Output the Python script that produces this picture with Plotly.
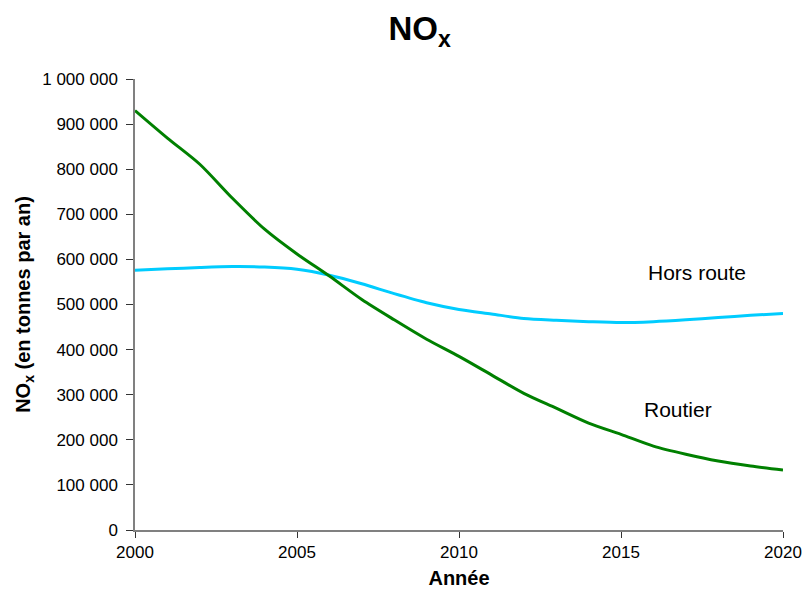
import plotly.graph_objects as go

years = list(range(2000, 2021))
routier = [930000, 869000, 811000, 736000, 667000, 612000, 563000, 511000, 466000, 423000,
           385000, 344000, 303000, 270000, 237000, 212000, 186000, 168000, 153000, 142000, 133000]
hors_route = [576000, 579000, 582000, 584000, 583000, 578000, 565000, 546000, 524000, 504000,
              489000, 479000, 469000, 465000, 462000, 460000, 462000, 466000, 471000, 476000, 480000]

FONT = "Liberation Sans, Arial, sans-serif"

fig = go.Figure()
fig.add_trace(go.Scatter(x=years, y=hors_route, mode="lines", name="Hors route",
                         line=dict(color="#00CCFF", width=3, shape="spline", smoothing=0.8)))
fig.add_trace(go.Scatter(x=years, y=routier, mode="lines", name="Routier",
                         line=dict(color="#008000", width=3, shape="spline", smoothing=0.8)))

fig.add_annotation(x=2017.35, y=571000, text="Hors route", showarrow=False,
                   font=dict(size=21, color="black", family=FONT))
fig.add_annotation(x=2016.75, y=268000, text="Routier", showarrow=False,
                   font=dict(size=21, color="black", family=FONT))

fig.update_layout(
    width=804, height=590,
    margin=dict(l=135, r=21, t=79, b=60, autoexpand=False),
    paper_bgcolor="white", plot_bgcolor="white",
    showlegend=False,
    separators=", ",
    font=dict(family=FONT, color="black", size=17),
    title=dict(text="<b>NO<sub>x</sub></b>", x=0.522, xanchor="center", y=0.951, yanchor="middle",
               font=dict(size=33, color="black", family=FONT)),
    xaxis=dict(range=[2000, 2020], tickmode="linear", tick0=2000, dtick=5,
               showline=True, linecolor="#808080", linewidth=1.5, automargin=False,
               ticks="outside", ticklen=6, tickcolor="#333", showgrid=False, zeroline=False,
               title=dict(text="<b>Année</b>", font=dict(size=20, family=FONT), standoff=10),
               tickfont=dict(size=17, family=FONT)),
    yaxis=dict(range=[0, 1000000], tickmode="linear", tick0=0, dtick=100000,
               tickformat=",.0f", automargin=False, ticklabelstandoff=5,
               showline=True, linecolor="#808080", linewidth=1.5,
               ticks="outside", ticklen=7, tickcolor="#333", showgrid=False, zeroline=False,
               title=dict(text="<b>NO<sub>x</sub> (en tonnes par an)</b>", font=dict(size=20, family=FONT), standoff=6),
               tickfont=dict(size=17, family=FONT)),
)

fig.write_html("out.html", config={"displayModeBar": False},
               post_script="document.body.style.margin='0';document.body.style.overflow='hidden';")
